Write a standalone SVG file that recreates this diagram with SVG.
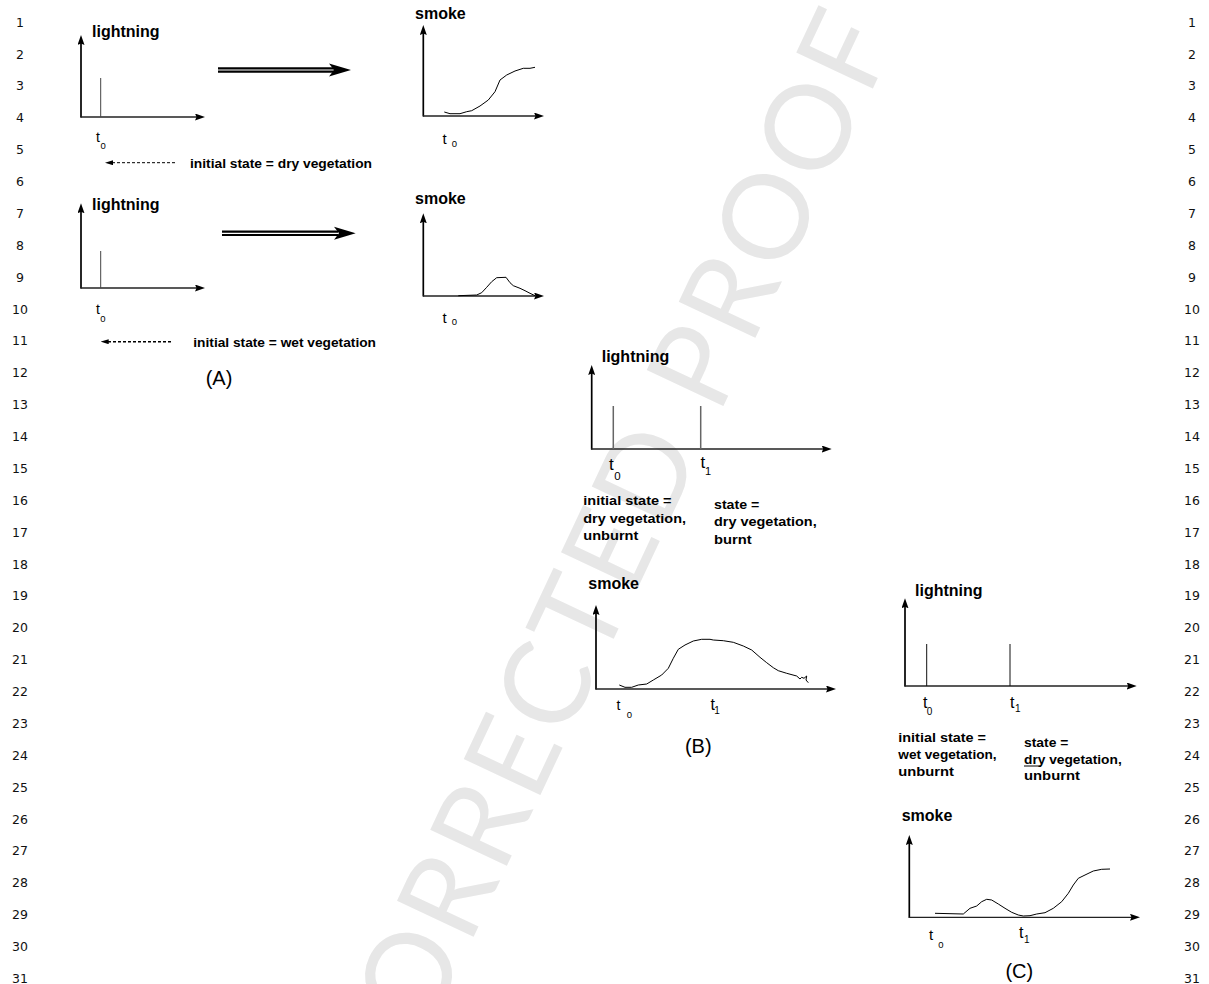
<svg xmlns="http://www.w3.org/2000/svg" width="1209" height="984" viewBox="0 0 1209 984">
<style>
.lab{font-family:"Liberation Sans",Arial,sans-serif;font-weight:bold;font-size:16px;fill:#000}
.st{font-family:"Liberation Sans",Arial,sans-serif;font-weight:bold;font-size:12.5px;fill:#000}
.t{font-family:"Liberation Sans",Arial,sans-serif;font-size:14px;fill:#000}
.sub{font-family:"Liberation Sans",Arial,sans-serif;font-size:9.5px;fill:#000}
.cap{font-family:"Liberation Sans",Arial,sans-serif;font-size:20px;fill:#000;text-anchor:middle}
.ln{font-family:"DejaVu Sans",sans-serif;font-size:12.5px;fill:#111;text-anchor:middle}
.ya{stroke:#000;stroke-width:1.7;fill:none;marker-end:url(#ah)}
.xa{stroke:#222;stroke-width:1.3;fill:none;marker-end:url(#ah)}
.sp{stroke:#444;stroke-width:1;fill:none}
.cv{stroke:#000;stroke-width:1;fill:none;stroke-linejoin:round}
.wm{font-family:Lato,"DejaVu Sans",sans-serif;font-size:118px;fill:#e7e7e7;letter-spacing:4.5px}
</style>
<defs>
<marker id="ah" markerUnits="userSpaceOnUse" viewBox="0 0 10 7" refX="5" refY="3.5" markerWidth="10" markerHeight="7" orient="auto"><path d="M0,0 L10,3.5 L0,7 L1.5,3.5 z" fill="#000"/></marker>
<marker id="sah" markerUnits="userSpaceOnUse" viewBox="0 0 8 5" refX="4" refY="2.5" markerWidth="8" markerHeight="5" orient="auto"><path d="M0,0 L8,2.5 L0,5 z" fill="#000"/></marker>
</defs>
<rect width="1209" height="984" fill="#fff"/>
<text class="wm" x="392" y="1110" transform="rotate(-64.8 392 1110)">CORRECTED PROOF</text>

<g id="line-numbers">
<text class="ln" x="20" y="26.7">1</text><text class="ln" x="1192" y="26.7">1</text>
<text class="ln" x="20" y="58.6">2</text><text class="ln" x="1192" y="58.6">2</text>
<text class="ln" x="20" y="90.4">3</text><text class="ln" x="1192" y="90.4">3</text>
<text class="ln" x="20" y="122.3">4</text><text class="ln" x="1192" y="122.3">4</text>
<text class="ln" x="20" y="154.2">5</text><text class="ln" x="1192" y="154.2">5</text>
<text class="ln" x="20" y="186.1">6</text><text class="ln" x="1192" y="186.1">6</text>
<text class="ln" x="20" y="217.9">7</text><text class="ln" x="1192" y="217.9">7</text>
<text class="ln" x="20" y="249.8">8</text><text class="ln" x="1192" y="249.8">8</text>
<text class="ln" x="20" y="281.7">9</text><text class="ln" x="1192" y="281.7">9</text>
<text class="ln" x="20" y="313.5">10</text><text class="ln" x="1192" y="313.5">10</text>
<text class="ln" x="20" y="345.4">11</text><text class="ln" x="1192" y="345.4">11</text>
<text class="ln" x="20" y="377.3">12</text><text class="ln" x="1192" y="377.3">12</text>
<text class="ln" x="20" y="409.1">13</text><text class="ln" x="1192" y="409.1">13</text>
<text class="ln" x="20" y="441">14</text><text class="ln" x="1192" y="441">14</text>
<text class="ln" x="20" y="472.9">15</text><text class="ln" x="1192" y="472.9">15</text>
<text class="ln" x="20" y="504.8">16</text><text class="ln" x="1192" y="504.8">16</text>
<text class="ln" x="20" y="536.6">17</text><text class="ln" x="1192" y="536.6">17</text>
<text class="ln" x="20" y="568.5">18</text><text class="ln" x="1192" y="568.5">18</text>
<text class="ln" x="20" y="600.4">19</text><text class="ln" x="1192" y="600.4">19</text>
<text class="ln" x="20" y="632.2">20</text><text class="ln" x="1192" y="632.2">20</text>
<text class="ln" x="20" y="664.1">21</text><text class="ln" x="1192" y="664.1">21</text>
<text class="ln" x="20" y="696">22</text><text class="ln" x="1192" y="696">22</text>
<text class="ln" x="20" y="727.8">23</text><text class="ln" x="1192" y="727.8">23</text>
<text class="ln" x="20" y="759.7">24</text><text class="ln" x="1192" y="759.7">24</text>
<text class="ln" x="20" y="791.6">25</text><text class="ln" x="1192" y="791.6">25</text>
<text class="ln" x="20" y="823.5">26</text><text class="ln" x="1192" y="823.5">26</text>
<text class="ln" x="20" y="855.3">27</text><text class="ln" x="1192" y="855.3">27</text>
<text class="ln" x="20" y="887.2">28</text><text class="ln" x="1192" y="887.2">28</text>
<text class="ln" x="20" y="919.1">29</text><text class="ln" x="1192" y="919.1">29</text>
<text class="ln" x="20" y="950.9">30</text><text class="ln" x="1192" y="950.9">30</text>
<text class="ln" x="20" y="982.8">31</text><text class="ln" x="1192" y="982.8">31</text>
</g>

<g id="A1-lightning">
<text class="lab" x="92" y="36.7">lightning</text>
<path class="ya" d="M81,117.5 V40"/>
<path class="xa" d="M80.5,117 H200"/>
<path class="sp" d="M100.7,78 V117"/>
<text class="t" x="96" y="141.7">t</text><text class="sub" x="100.5" y="148.5">0</text>
</g>

<g id="A1-smoke">
<text class="lab" x="415" y="18.5">smoke</text>
<path class="ya" d="M423.3,116.5 V30"/>
<path class="xa" d="M423,116 H539"/>
<path class="cv" d="M444.3,112 L450,113.7 L460,113.7 L466.7,111.7 L471.7,110.7 L480,106 L488.3,100 L495,91.7 L500,80 L506.7,75 L515,71 L523.3,68.3 L530,68.3 L535,67.3"/>
<text class="t" x="442.5" y="144" style="font-size:15px">t</text><text class="sub" x="451.7" y="146.5">0</text>
</g>

<g id="A1-state">
<text class="st" x="190" y="168.3" textLength="182" lengthAdjust="spacingAndGlyphs">initial state = dry vegetation</text>
</g>

<g id="A2-lightning">
<text class="lab" x="92" y="210">lightning</text>
<path class="ya" d="M81,288.5 V208.3"/>
<path class="xa" d="M80.5,288 H200"/>
<path class="sp" d="M100.7,251 V288"/>
<text class="t" x="96" y="314.3">t</text><text class="sub" x="100.3" y="321.7">0</text>
</g>

<g id="A2-smoke">
<text class="lab" x="415" y="204">smoke</text>
<path class="ya" d="M423.3,296.5 V218.3"/>
<path class="xa" d="M423,296 H539"/>
<path class="cv" d="M458.3,295.7 L476.7,295 L481.7,292.7 L486.7,287.3 L491.7,281.7 L496.7,277.7 L506,277.3 L510,282.7 L513.3,285.7 L520,288.3 L525,290.7 L530,293.3 L535,295.7"/>
<text class="t" x="442.5" y="323" style="font-size:15px">t</text><text class="sub" x="451.7" y="325">0</text>
</g>

<g id="A2-state">
<text class="st" x="193.3" y="346.7" textLength="182.7" lengthAdjust="spacingAndGlyphs">initial state = wet vegetation</text>
</g>

<g id="A-caption"><text class="cap" x="219" y="385">(A)</text></g>

<g id="B-lightning">
<text class="lab" x="601.7" y="362">lightning</text>
<path class="ya" d="M591.7,449.5 V370"/>
<path class="xa" d="M591,449 H826.7"/>
<path class="sp" d="M613.3,406 V449 M700.7,406 V449" style="stroke:#666;stroke-width:1.5"/>
<text class="t" x="609" y="470" style="font-size:17px">t</text><text class="sub" x="614.3" y="480" style="font-size:11.5px">0</text>
<text class="t" x="700.5" y="468" style="font-size:17px">t</text><text class="sub" x="705" y="475" style="font-size:11px">1</text>
</g>

<g id="B-state">
<text class="st" x="583.3" y="505" style="font-size:13.5px" textLength="88.3" lengthAdjust="spacingAndGlyphs">initial state =</text>
<text class="st" x="583.3" y="522.5" style="font-size:13.5px" textLength="102.7" lengthAdjust="spacingAndGlyphs">dry vegetation,</text>
<text class="st" x="583.3" y="540" style="font-size:13.5px" textLength="55" lengthAdjust="spacingAndGlyphs">unburnt</text>
<text class="st" x="714" y="508.5" style="font-size:13.5px" textLength="45.3" lengthAdjust="spacingAndGlyphs">state =</text>
<text class="st" x="714" y="526" style="font-size:13.5px" textLength="102.7" lengthAdjust="spacingAndGlyphs">dry vegetation,</text>
<text class="st" x="714" y="543.5" style="font-size:13.5px" textLength="37.7" lengthAdjust="spacingAndGlyphs">burnt</text>
</g>

<g id="B-smoke">
<text class="lab" x="588.3" y="588.5">smoke</text>
<path class="ya" d="M596,689.5 V610"/>
<path class="xa" d="M595.5,689 H831"/>
<path class="cv" d="M619.3,685 L625,687.3 L631.7,687.3 L638.3,685 L646.7,684 L653.3,680 L661.7,675 L668.3,668.3 L673.3,658.3 L678.3,649.3 L685,645 L693.3,641 L701.7,639.3 L710,639.3 L713.3,640 L723.3,640.7 L733.3,642.3 L743.3,646 L751.7,650 L760,657.3 L766.7,662.7 L773.3,667.7 L778.3,670.7 L786.7,673.3 L796.7,676 L800,679 L801.7,677.3 L804,678.3 L806.7,676 L806,680 L808.3,682.7"/>
<text class="t" x="616.5" y="710">t</text><text class="sub" x="626.7" y="718.3">0</text>
<text class="t" x="710.5" y="710" style="font-size:16px">t</text><text class="sub" x="714.3" y="714" style="font-size:10px">1</text>
</g>

<g id="B-caption"><text class="cap" x="698.3" y="752.5">(B)</text></g>

<g id="C-lightning">
<text class="lab" x="915" y="595.5">lightning</text>
<path class="ya" d="M905,686.5 V603.3"/>
<path class="xa" d="M904.5,686 H1131.7"/>
<path class="sp" d="M926.7,644 V686 M1010,644 V686" style="stroke:#111"/>
<text class="t" x="923" y="708.3" style="font-size:16px">t</text><text class="sub" x="926.7" y="715" style="font-size:10px">0</text>
<text class="t" x="1010" y="708" style="font-size:16px">t</text><text class="sub" x="1015" y="711.7" style="font-size:10px">1</text>
</g>

<g id="C-state">
<text class="st" x="898.3" y="742" style="font-size:13px" textLength="87.7" lengthAdjust="spacingAndGlyphs">initial state =</text>
<text class="st" x="898.3" y="759" style="font-size:13px" textLength="98.3" lengthAdjust="spacingAndGlyphs">wet vegetation,</text>
<text class="st" x="898.3" y="775.5" style="font-size:13px" textLength="55.7" lengthAdjust="spacingAndGlyphs">unburnt</text>
<text class="st" x="1024" y="747" style="font-size:13px" textLength="44.3" lengthAdjust="spacingAndGlyphs">state =</text>
<text class="st" x="1024" y="763.5" style="font-size:13px" textLength="97.7" lengthAdjust="spacingAndGlyphs">dry vegetation,</text>
<text class="st" x="1024" y="780" style="font-size:13px" textLength="56" lengthAdjust="spacingAndGlyphs">unburnt</text>
<path d="M1024,766 H1041" stroke="#000" stroke-width="1"/>
</g>

<g id="C-smoke">
<text class="lab" x="901.7" y="820.7">smoke</text>
<path class="ya" d="M909.3,917.8 V840"/>
<path class="xa" d="M908.8,917.3 H1135"/>
<path class="cv" d="M935,913.3 L963.3,914 L970,908.3 L976.7,906 L981.7,901.7 L986.7,899.3 L991.7,900 L998.3,904 L1005,908.3 L1011.7,912.3 L1018.3,915 L1023.3,916 L1030,915.7 L1036.7,914 L1045,912.7 L1053.3,908.3 L1061.7,901.7 L1068.3,893.3 L1073.3,885 L1078.3,878.3 L1085,875 L1093.3,871 L1101.7,869.3 L1110,869"/>
<text class="t" x="929" y="940" style="font-size:15px">t</text><text class="sub" x="938.3" y="948.3">0</text>
<text class="t" x="1019" y="938.3" style="font-size:16px">t</text><text class="sub" x="1024" y="942.7" style="font-size:10px">1</text>
</g>

<g id="C-caption"><text class="cap" x="1019.3" y="977.5">(C)</text></g>

<g id="connectors">
<path d="M218,70 H334" stroke="#000" stroke-width="5.5" fill="none"/>
<path d="M218,70 H334" stroke="#fff" stroke-width="1.2" fill="none"/>
<path d="M351,70 L329,63.5 L334,70 L329,76.5 Z" fill="#000"/>
<path d="M222,233.3 H338" stroke="#000" stroke-width="5.5" fill="none"/>
<path d="M222,233.3 H338" stroke="#fff" stroke-width="1.2" fill="none"/>
<path d="M355.7,233.3 L334,226.8 L339,233.3 L334,239.8 Z" fill="#000"/>
<path d="M175,162.7 H109" stroke="#000" stroke-width="1" stroke-dasharray="3,2" fill="none" marker-end="url(#sah)"/>
<path d="M171,341.7 H104.7" stroke="#000" stroke-width="1.5" stroke-dasharray="3,2" fill="none" marker-end="url(#sah)"/>
</g>
</svg>
